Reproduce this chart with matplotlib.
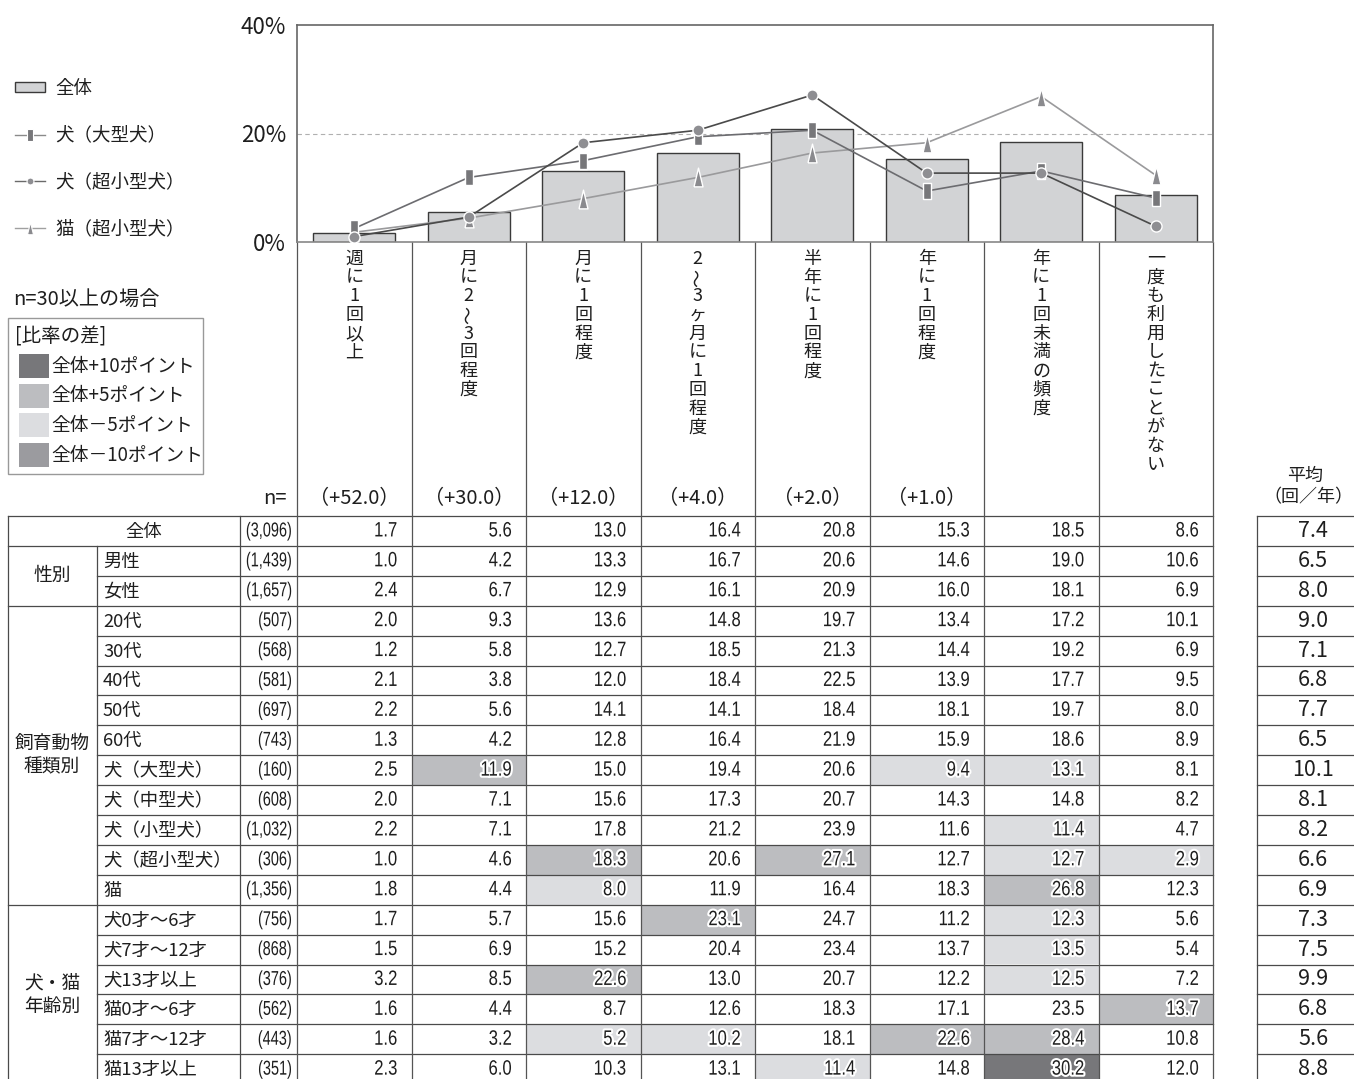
import matplotlib
matplotlib.use('Agg')
import matplotlib.pyplot as plt
import matplotlib.patheffects as pe
from matplotlib.patches import Rectangle
from matplotlib.lines import Line2D
from matplotlib.transforms import Affine2D
import numpy as np

plt.rcParams['font.family'] = ['Noto Sans CJK JP', 'DejaVu Sans']

# ---------------- data ----------------
categories = ['週に1回以上', '月に2～3回程度', '月に1回程度', '2～3ヶ月に1回程度',
              '半年に1回程度', '年に1回程度', '年に1回未満の頻度', '一度も利用したことがない']
weights = ['（+52.0）', '（+30.0）', '（+12.0）', '（+4.0）', '（+2.0）', '（+1.0）', '', '']

total = [1.7, 5.6, 13.0, 16.4, 20.8, 15.3, 18.5, 8.6]
dog_large = [2.5, 11.9, 15.0, 19.4, 20.6, 9.4, 13.1, 8.1]
dog_toy = [1.0, 4.6, 18.3, 20.6, 27.1, 12.7, 12.7, 2.9]
cat = [1.8, 4.4, 8.0, 11.9, 16.4, 18.3, 26.8, 12.3]

group_labels = ['', '性別', '飼育動物\n種類別', '犬・猫\n年齢別']
group_sizes = [1, 2, 10, 6]

row_labels = ['全体', '男性', '女性', '20代', '30代', '40代', '50代', '60代',
              '犬（大型犬）', '犬（中型犬）', '犬（小型犬）', '犬（超小型犬）', '猫',
              '犬0才～6才', '犬7才～12才', '犬13才以上', '猫0才～6才', '猫7才～12才', '猫13才以上']
row_n = ['(3,096)', '(1,439)', '(1,657)', '(507)', '(568)', '(581)', '(697)', '(743)',
         '(160)', '(608)', '(1,032)', '(306)', '(1,356)',
         '(756)', '(868)', '(376)', '(562)', '(443)', '(351)']
table_values = [
    [1.7, 5.6, 13.0, 16.4, 20.8, 15.3, 18.5, 8.6],
    [1.0, 4.2, 13.3, 16.7, 20.6, 14.6, 19.0, 10.6],
    [2.4, 6.7, 12.9, 16.1, 20.9, 16.0, 18.1, 6.9],
    [2.0, 9.3, 13.6, 14.8, 19.7, 13.4, 17.2, 10.1],
    [1.2, 5.8, 12.7, 18.5, 21.3, 14.4, 19.2, 6.9],
    [2.1, 3.8, 12.0, 18.4, 22.5, 13.9, 17.7, 9.5],
    [2.2, 5.6, 14.1, 14.1, 18.4, 18.1, 19.7, 8.0],
    [1.3, 4.2, 12.8, 16.4, 21.9, 15.9, 18.6, 8.9],
    [2.5, 11.9, 15.0, 19.4, 20.6, 9.4, 13.1, 8.1],
    [2.0, 7.1, 15.6, 17.3, 20.7, 14.3, 14.8, 8.2],
    [2.2, 7.1, 17.8, 21.2, 23.9, 11.6, 11.4, 4.7],
    [1.0, 4.6, 18.3, 20.6, 27.1, 12.7, 12.7, 2.9],
    [1.8, 4.4, 8.0, 11.9, 16.4, 18.3, 26.8, 12.3],
    [1.7, 5.7, 15.6, 23.1, 24.7, 11.2, 12.3, 5.6],
    [1.5, 6.9, 15.2, 20.4, 23.4, 13.7, 13.5, 5.4],
    [3.2, 8.5, 22.6, 13.0, 20.7, 12.2, 12.5, 7.2],
    [1.6, 4.4, 8.7, 12.6, 18.3, 17.1, 23.5, 13.7],
    [1.6, 3.2, 5.2, 10.2, 18.1, 22.6, 28.4, 10.8],
    [2.3, 6.0, 10.3, 13.1, 11.4, 14.8, 30.2, 12.0],
]
averages = [7.4, 6.5, 8.0, 9.0, 7.1, 6.8, 7.7, 6.5, 10.1, 8.1, 8.2, 6.6, 6.9,
            7.3, 7.5, 9.9, 6.8, 5.6, 8.8]
# shading level: 2=+10pt, 1=+5pt, -1=-5pt, -2=-10pt
shade = [
    [0, 0, 0, 0, 0, 0, 0, 0],
    [0, 0, 0, 0, 0, 0, 0, 0],
    [0, 0, 0, 0, 0, 0, 0, 0],
    [0, 0, 0, 0, 0, 0, 0, 0],
    [0, 0, 0, 0, 0, 0, 0, 0],
    [0, 0, 0, 0, 0, 0, 0, 0],
    [0, 0, 0, 0, 0, 0, 0, 0],
    [0, 0, 0, 0, 0, 0, 0, 0],
    [0, 1, 0, 0, 0, -1, -1, 0],
    [0, 0, 0, 0, 0, 0, 0, 0],
    [0, 0, 0, 0, 0, 0, -1, 0],
    [0, 0, 1, 0, 1, 0, -1, -1],
    [0, 0, -1, 0, 0, 0, 1, 0],
    [0, 0, 0, 1, 0, 0, -1, 0],
    [0, 0, 0, 0, 0, 0, -1, 0],
    [0, 0, 1, 0, 0, 0, -1, 0],
    [0, 0, 0, 0, 0, 0, 0, 1],
    [0, 0, -1, -1, 0, 1, 1, 0],
    [0, 0, 0, 0, -1, 0, 2, 0],
]
shade_labels = ['全体+10ポイント', '全体+5ポイント', '全体－5ポイント', '全体－10ポイント']
shade_levels = [2, 1, -1, -2]

# ---------------- styles ----------------
shade_colors = {2: '#77777a', 1: '#bcbdc0', -1: '#dcdde0', -2: '#9b9b9f'}
line_col = '#4a4a4a'
num_font = ['Liberation Sans', 'DejaVu Sans']
txt_col = '#1e1e1e'


class Condense(pe.AbstractPathEffect):
    """Horizontally condense glyphs about the right ink edge (optional halo)."""

    def __init__(self, sx=0.78, halo=0.0, fg='white'):
        super().__init__()
        self.sx = sx
        self.halo = halo
        self.fg = fg

    def draw_path(self, renderer, gc, tpath, affine, rgbFace=None):
        ext = tpath.get_extents()
        xa = ext.x1
        t = Affine2D().translate(-xa, 0).scale(self.sx, 1).translate(xa, 0) + affine
        if self.halo:
            gc0 = renderer.new_gc()
            gc0.copy_properties(gc)
            gc0.set_foreground(self.fg)
            gc0.set_linewidth(self.halo)
            gc0.set_joinstyle('round')
            renderer.draw_path(gc0, tpath, t)
            gc0.restore()
        renderer.draw_path(gc, tpath, t, rgbFace)


W, H = 1354, 1079
fig = plt.figure(figsize=(W / 100, H / 100), dpi=100)

# overlay in pixel coordinates for the table / legends
ov = fig.add_axes([0, 0, 1, 1])
ov.set_xlim(0, W)
ov.set_ylim(H, 0)
ov.axis('off')

# chart axes
cx0, cx1, cy0, cy1 = 297, 1213, 25, 242
ax = fig.add_axes([cx0 / W, 1 - cy1 / H, (cx1 - cx0) / W, (cy1 - cy0) / H])
x = np.arange(len(categories))
ax.set_xlim(-0.5, len(categories) - 0.5)
ax.set_ylim(0, 40)
ax.axhline(20, color='#b0b0b0', lw=0.8, ls=(0, (4, 3)), zorder=1)
ax.bar(x, total, width=0.72, color='#d2d3d5', edgecolor='#3a3a3a',
       linewidth=1.0, zorder=2)
rect_m = [(-0.22, -0.5), (0.22, -0.5), (0.22, 0.5), (-0.22, 0.5), (-0.22, -0.5)]
tri_m = [(-0.24, -0.5), (0.24, -0.5), (0, 0.5), (-0.24, -0.5)]
ax.plot(x, cat, color='#9a9a9c', lw=1.2, marker=tri_m, ms=13.5, mfc='#8a8a8e',
        mec='white', mew=1.0, zorder=3)
ax.plot(x, dog_large, color='#6c6c70', lw=1.2, marker=rect_m, ms=12, mfc='#77777a',
        mec='white', mew=1.0, zorder=4)
ax.plot(x, dog_toy, color='#4a4a4a', lw=1.2, marker='o', ms=8, mfc='#8e8e92',
        mec='white', mew=1.0, zorder=5)
ax.set_xticks([])
ax.set_yticks([0, 20, 40])
ax.set_yticklabels(['0%', '20%', '40%'], fontsize=16, color=txt_col)
ax.tick_params(axis='y', length=0, pad=8)
for s in ax.spines.values():
    s.set_color('#666666')
    s.set_linewidth(1.2)
ax.spines['bottom'].set_color('#888888')

# chart legend
handles = [
    Rectangle((0, 0), 1, 1, facecolor='#d2d3d5', edgecolor='#3a3a3a', lw=1.0),
    Line2D([], [], color='#8a8a8a', lw=1.0, marker=rect_m, ms=9, mfc='#77777a', mec='white', mew=0.8),
    Line2D([], [], color='#6a6a6a', lw=1.0, marker='o', ms=5, mfc='#8e8e92', mec='white', mew=0.8),
    Line2D([], [], color='#a0a0a0', lw=1.0, marker=tri_m, ms=9, mfc='#8a8a8e', mec='white', mew=0.8),
]
fig.legend(handles, ['全体', '犬（大型犬）', '犬（超小型犬）', '猫（超小型犬）'],
           loc='upper left', bbox_to_anchor=(15 / W, 1 - 80 / H), frameon=False,
           fontsize=13.3, borderpad=0, borderaxespad=0, labelspacing=1.55,
           handlelength=1.6, handletextpad=0.6, handleheight=0.45, numpoints=1,
           labelcolor=txt_col)

# shading legend
ov.text(13, 300, 'n=30以上の場合', fontsize=14.5, ha='left', va='center', color=txt_col)
ov.add_patch(Rectangle((8, 318), 195, 156, fill=False, ec='#999999', lw=1.0))
ov.text(15, 337, '[比率の差]', fontsize=14, ha='left', va='center', color=txt_col)
for k, (lvl, lab) in enumerate(zip(shade_levels, shade_labels)):
    yc = 366 + k * 29.7
    ov.add_patch(Rectangle((19, yc - 12), 30, 24, color=shade_colors[lvl], lw=0))
    ov.text(51, yc, lab, fontsize=13.5, ha='left', va='center', color=txt_col)

# ---------------- table geometry ----------------
col_w = (cx1 - cx0) / len(categories)
col_x = [cx0 + col_w * i for i in range(len(categories) + 1)]
top, rh = 516, 29.9
nrows = len(row_labels)
bottom = top + rh * nrows
gx0, gx1, lx1 = 8, 97, 240
ax0, ax1 = 1257, 1360

# column headers (vertical text)
for j, cat_name in enumerate(categories):
    xc = (col_x[j] + col_x[j + 1]) / 2
    for k, ch in enumerate(cat_name):
        ov.text(xc, 259 + k * 18.7, ch, fontsize=13, ha='center', va='center',
                rotation=90 if ch == '～' else 0, color=txt_col)
    if weights[j]:
        ov.text(xc, 499, weights[j], fontsize=14.5, ha='center', va='center', color=txt_col)
ov.text(287, 499, 'n=', fontsize=14.5, ha='right', va='center', color=txt_col)
ov.text(1305, 476, '平均', fontsize=13, ha='center', va='center', color=txt_col)
ov.text(1308, 497, '（回／年）', fontsize=13, ha='center', va='center', color=txt_col)

# shading cells
for i in range(nrows):
    for j in range(len(categories)):
        if shade[i][j]:
            ov.add_patch(Rectangle((col_x[j], top + i * rh), col_w, rh,
                                   color=shade_colors[shade[i][j]], lw=0, zorder=0))

# grid lines
group_bounds = np.cumsum([0] + group_sizes)
for i in range(nrows + 1):
    y = top + i * rh
    xs = gx0 if i in group_bounds else gx1
    ov.plot([xs, cx1], [y, y], color=line_col, lw=0.9, zorder=1)
    ov.plot([ax0, ax1], [y, y], color=line_col, lw=0.9, zorder=1)
ov.plot([gx0, gx0], [top, bottom], color=line_col, lw=0.9)
ov.plot([gx1, gx1], [top + rh, bottom], color=line_col, lw=0.9)
ov.plot([lx1, lx1], [top, bottom], color=line_col, lw=0.9)
for xv in col_x:
    ov.plot([xv, xv], [cy1, bottom], color='#555555', lw=0.9)
ov.plot([ax0, ax0], [top, bottom], color=line_col, lw=0.9)

# group labels
start = 0
for g, sz in zip(group_labels, group_sizes):
    if g:
        yc = top + (start + sz / 2) * rh
        ov.text(52, yc, g, fontsize=13.5, ha='center', va='center', color=txt_col,
                linespacing=1.15)
    start += sz

plain = [Condense(0.80)]
halo = [Condense(0.80, halo=3.0)]
for i in range(nrows):
    yc = top + (i + 0.5) * rh
    if i == 0:
        ov.text(144, yc + 1, row_labels[i], fontsize=13.2, ha='center', va='center', color=txt_col)
    else:
        ov.text(103, yc + 1, row_labels[i], fontsize=13.2, ha='left', va='center', color=txt_col)
    ov.text(292, yc, row_n[i], fontsize=14.5, ha='right', va='center', color=txt_col,
            family=num_font, path_effects=[Condense(0.72)])
    for j, v in enumerate(table_values[i]):
        ov.text(col_x[j + 1] - 14, yc, f'{v:.1f}', fontsize=15, ha='right',
                va='center', color=txt_col, family=num_font,
                path_effects=halo if shade[i][j] else plain)
    ov.text(1313, yc, f'{averages[i]:.1f}', fontsize=15.5, ha='center', va='center',
            color=txt_col)

fig.savefig('out.png', dpi=100)
